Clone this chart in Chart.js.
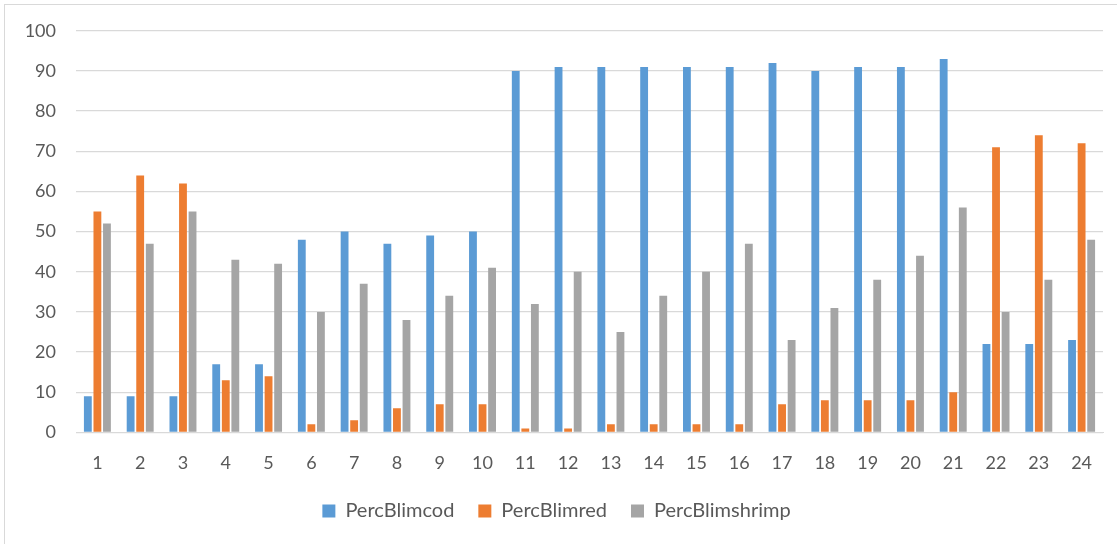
<!DOCTYPE html>
<html>
<head>
<meta charset="utf-8">
<script src="https://cdn.jsdelivr.net/npm/chart.js@4"></script>
<style>
  html, body { margin: 0; padding: 0; background: #fff; }
  #frame { position: absolute; left: 4px; top: 4px; width: 1120px; height: 545px; border: 1px solid #d9d9d9; box-sizing: border-box; }
  #wrap { position: absolute; left: 0; top: 0; width: 1117px; height: 544px; }
</style>
</head>
<body>
<div id="frame"></div>
<div id="wrap"><canvas id="bars"></canvas></div>
<script>
const categories = ['1','2','3','4','5','6','7','8','9','10','11','12','13','14','15','16','17','18','19','20','21','22','23','24'];
const percBlimcod = [9, 9, 9, 17, 17, 48, 50, 47, 49, 50, 90, 91, 91, 91, 91, 91, 92, 90, 91, 91, 93, 22, 22, 23];
const percBlimred = [55, 64, 62, 13, 14, 2, 3, 6, 7, 7, 1, 1, 2, 2, 2, 2, 7, 8, 8, 8, 10, 71, 74, 72];
const percBlimshrimp = [52, 47, 55, 43, 42, 30, 37, 28, 34, 41, 32, 40, 25, 34, 40, 47, 23, 31, 38, 44, 56, 30, 38, 48];

Chart.defaults.font.family = 'Lato, "Open Sans", sans-serif';
Chart.defaults.color = '#595959';

const barOpts = { categoryPercentage: 0.67, barPercentage: 0.82, borderWidth: 0 };

const ctx = document.getElementById('bars');
new Chart(ctx, {
  type: 'bar',
  data: {
    labels: categories,
    datasets: [
      { label: 'PercBlimcod', data: percBlimcod, backgroundColor: '#5b9bd5', ...barOpts },
      { label: 'PercBlimred', data: percBlimred, backgroundColor: '#ed7d31', ...barOpts },
      { label: 'PercBlimshrimp', data: percBlimshrimp, backgroundColor: '#a5a5a5', ...barOpts },
    ],
  },
  options: {
    responsive: true,
    maintainAspectRatio: false,
    animation: false,
    layout: { padding: { left: 10, right: 14, top: 25, bottom: 13 } },
    plugins: {
      tooltip: { enabled: false },
      legend: {
        position: 'bottom',
        labels: { boxWidth: 13, boxHeight: 13, padding: 24, font: { size: 20 } },
      },
    },
    scales: {
      x: {
        grid: { display: false },
        border: { color: '#d9d9d9', width: 1 },
        ticks: { font: { size: 18 }, padding: 12, maxRotation: 0 },
        // pull the legend up closer to the category labels
        afterFit: (axis) => { axis.height -= 9; },
      },
      y: {
        min: 0,
        max: 100,
        ticks: { stepSize: 10, font: { size: 18 }, padding: 20 },
        grid: { color: '#d9d9d9', lineWidth: 1.3, drawTicks: false },
        border: { display: false },
        afterFit: (axis) => { axis.width = 66; },
      },
    },
  },
});
</script>
</body>
</html>
